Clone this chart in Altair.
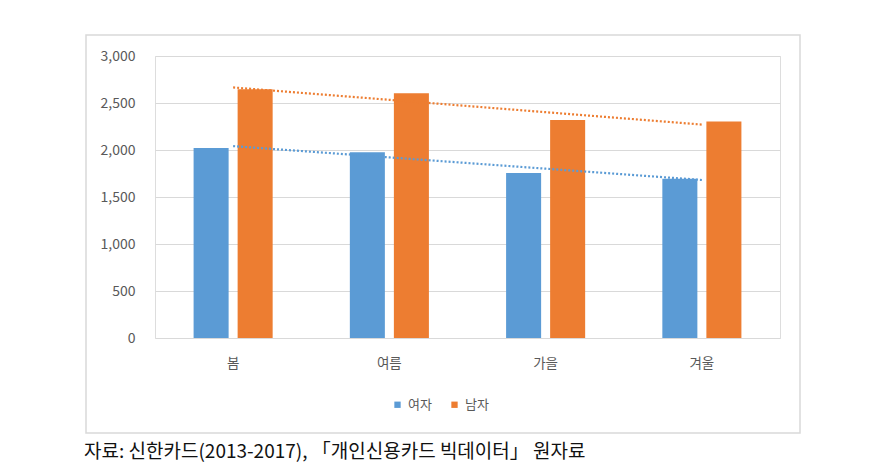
import altair as alt
import pandas as pd
import numpy as np

seasons = ["봄", "여름", "가을", "겨울"]
series_names = ["여자", "남자"]
female = [2020, 1977, 1754, 1694]
male = [2646, 2604, 2320, 2302]
colors = ["#5B9BD5", "#ED7D31"]
caption = "자료: 신한카드(2013-2017), 「개인신용카드 빅데이터」 원자료"

rows = []
for s, f, m in zip(seasons, female, male):
    rows.append({"계절": s, "성별": "여자", "값": f})
    rows.append({"계절": s, "성별": "남자", "값": m})
df = pd.DataFrame(rows)

# linear trend lines (Excel-style) fitted on category index
idx = np.arange(1, len(seasons) + 1)
trend_rows = []
for name, vals in zip(series_names, [female, male]):
    k, b = np.polyfit(idx, vals, 1)
    for i, s in zip(idx, seasons):
        trend_rows.append({"계절": s, "성별": name, "추세": float(k * i + b)})
tdf = pd.DataFrame(trend_rows)

FONT = "Noto Sans CJK KR"

x_enc = alt.X("계절:N", sort=seasons,
              scale=alt.Scale(paddingInner=0.494, paddingOuter=0.247),
              axis=alt.Axis(title=None, labelAngle=0, domain=False, ticks=False,
                            labelPadding=18, labelFontSize=13.5, labelColor="#595959",
                            labelFont=FONT))
color_scale = alt.Scale(domain=series_names, range=colors)

bars = alt.Chart(df).mark_bar().encode(
    x=x_enc,
    xOffset=alt.XOffset("성별:N", sort=series_names,
                        scale=alt.Scale(paddingInner=0.2045, paddingOuter=0)),
    y=alt.Y("값:Q", scale=alt.Scale(domain=[0, 3000]),
            axis=alt.Axis(title=None, values=[0, 500, 1000, 1500, 2000, 2500, 3000],
                          format=",d", domain=False, ticks=False, labelPadding=20,
                          labelFontSize=14, labelColor="#595959", labelFont=FONT,
                          grid=True, gridColor="#d9d9d9", gridWidth=1)),
    color=alt.Color("성별:N", sort=series_names, scale=color_scale,
                    legend=alt.Legend(title=None, orient="none", direction="horizontal",
                                      legendX=236, legendY=342, symbolType="square",
                                      symbolSize=40, symbolStrokeWidth=0,
                                      labelFontSize=13, labelColor="#595959",
                                      labelFont=FONT, columnPadding=16,
                                      labelOffset=4, padding=0)),
)

trend = alt.Chart(tdf).mark_line(strokeDash=[2, 2], strokeWidth=2.2).encode(
    x=alt.X("계절:N", sort=seasons),
    y=alt.Y("추세:Q"),
    color=alt.Color("성별:N", sort=series_names, scale=color_scale, legend=None),
)

frame = alt.Chart(alt.Data(values=[{}])).mark_rect(
    fill=None, filled=False, stroke="#d9d9d9", strokeWidth=1.5
).encode(
    x=alt.value(-69), x2=alt.value(645), y=alt.value(-21), y2=alt.value(377)
)

cap = alt.Chart(alt.Data(values=[{"t": caption}])).mark_text(
    align="left", baseline="alphabetic", fontSize=19, font=FONT, color="#111111"
).encode(
    x=alt.value(-71), y=alt.value(402), text="t:N"
)

chart = alt.layer(frame, bars, trend, cap).properties(
    width=625, height=282,
    autosize=alt.AutoSizeParams(type="none"),
    padding={"left": 147, "top": 48, "right": 80, "bottom": 126},
).configure_view(stroke=None).configure(font=FONT)

chart.save("out.html", embed_options={"renderer": "svg", "actions": False})
